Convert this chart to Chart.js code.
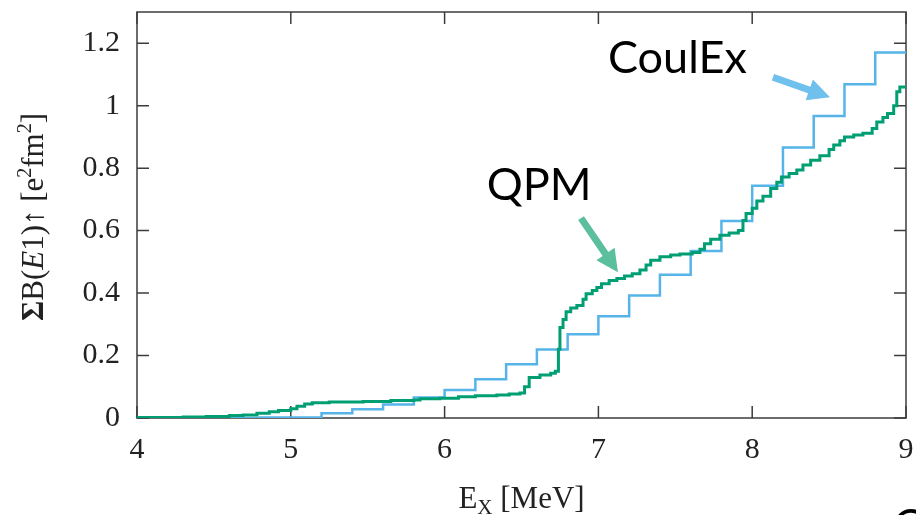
<!DOCTYPE html>
<html>
<head>
<meta charset="utf-8">
<script src="https://cdn.jsdelivr.net/npm/chart.js@4.4.0/dist/chart.umd.min.js"></script>
<style>
  html, body { margin: 0; padding: 0; background: #fff; }
  #wrap { width: 916px; height: 515px; position: relative; }
</style>
</head>
<body>
<div id="wrap"><canvas id="myChart"></canvas></div>
<script>
// CoulEx sum, 0.2 MeV bins (value holds from each energy to the next one)
var coulexE = [4.0, 4.2, 4.4, 4.6, 4.8, 5.0, 5.2, 5.4, 5.6, 5.8, 6.0, 6.2, 6.4, 6.6, 6.8,
               7.0, 7.2, 7.4, 7.6, 7.8, 8.0, 8.2, 8.4, 8.6, 8.8, 9.0];
var coulexB = [0, 0, 0, 0, 0.002, 0.002, 0.015, 0.028, 0.043, 0.066, 0.09, 0.124, 0.172, 0.219, 0.268,
               0.326, 0.392, 0.459, 0.535, 0.631, 0.744, 0.866, 0.967, 1.069, 1.17, 1.17];

// QPM running sum
var qpmE = [4.0, 4.3, 4.45, 4.6, 4.69, 4.78, 4.86, 4.92, 5.0, 5.04, 5.09, 5.14, 5.25, 5.47, 5.65,
            5.8, 5.84, 5.97, 6.09, 6.2, 6.34, 6.42, 6.49, 6.52, 6.55, 6.62, 6.69, 6.72, 6.74, 6.75,
            6.77, 6.79, 6.82, 6.86, 6.9, 6.92, 6.96, 6.99, 7.02, 7.07, 7.12, 7.17, 7.22, 7.27, 7.31,
            7.34, 7.4, 7.47, 7.53, 7.61, 7.66, 7.69, 7.73, 7.79, 7.85, 7.91, 7.94, 7.96, 8.0, 8.03,
            8.07, 8.12, 8.16, 8.19, 8.24, 8.29, 8.33, 8.38, 8.44, 8.5, 8.53, 8.57, 8.6, 8.66, 8.72,
            8.78, 8.81, 8.85, 8.88, 8.92, 8.94, 8.96, 9.0];
var qpmB = [0.002, 0.003, 0.005, 0.008, 0.01, 0.015, 0.02, 0.024, 0.03, 0.038, 0.045, 0.049, 0.051, 0.053, 0.056,
            0.058, 0.062, 0.063, 0.068, 0.071, 0.074, 0.077, 0.08, 0.1, 0.13, 0.138, 0.143, 0.15, 0.22, 0.29,
            0.315, 0.34, 0.352, 0.36, 0.38, 0.398, 0.408, 0.418, 0.43, 0.44, 0.447, 0.455, 0.462, 0.474, 0.49,
            0.505, 0.516, 0.522, 0.525, 0.53, 0.54, 0.558, 0.572, 0.585, 0.592, 0.6, 0.632, 0.655, 0.672, 0.695,
            0.71, 0.735, 0.755, 0.772, 0.783, 0.794, 0.81, 0.825, 0.84, 0.86, 0.874, 0.888, 0.9, 0.906, 0.912,
            0.927, 0.948, 0.962, 0.975, 1.0, 1.045, 1.06, 1.062];

var xTicks = [4, 5, 6, 7, 8, 9];
var yTicks = [0, 0.2, 0.4, 0.6, 0.8, 1, 1.2];

var serif = '"Liberation Serif", "Times New Roman", serif';
var sans = 'Lato, "Open Sans", sans-serif';

function toPoints(xs, ys) {
    var pts = [];
    for (var i = 0; i < xs.length; i++) {
        pts.push({ x: xs[i], y: ys[i] });
    }
    return pts;
}

// draws a string made of parts with different fonts: [text, font, dy]
function drawRich(ctx, parts, x, y) {
    var total = 0;
    parts.forEach(function (p) { ctx.font = p[1]; total += ctx.measureText(p[0]).width; });
    var cx = x - total / 2;
    parts.forEach(function (p) {
        ctx.font = p[1];
        ctx.fillText(p[0], cx, y + p[2]);
        cx += ctx.measureText(p[0]).width;
    });
}

function drawArrow(ctx, x1, y1, x2, y2, shaft, headW, headL, color) {
    var dx = x2 - x1, dy = y2 - y1;
    var len = Math.sqrt(dx * dx + dy * dy);
    var ux = dx / len, uy = dy / len;
    var nx = -uy, ny = ux;
    var bx = x2 - ux * headL, by = y2 - uy * headL;
    ctx.save();
    ctx.fillStyle = color;
    ctx.beginPath();
    ctx.moveTo(x1 + nx * shaft / 2, y1 + ny * shaft / 2);
    ctx.lineTo(bx + nx * shaft / 2, by + ny * shaft / 2);
    ctx.lineTo(bx + nx * headW / 2, by + ny * headW / 2);
    ctx.lineTo(x2, y2);
    ctx.lineTo(bx - nx * headW / 2, by - ny * headW / 2);
    ctx.lineTo(bx - nx * shaft / 2, by - ny * shaft / 2);
    ctx.lineTo(x1 - nx * shaft / 2, y1 - ny * shaft / 2);
    ctx.closePath();
    ctx.fill();
    ctx.restore();
}

function noPad(scale) {
    scale.paddingTop = 0;
    scale.paddingBottom = 0;
    scale.paddingLeft = 0;
    scale.paddingRight = 0;
}

// box round the plot with ticks pointing inwards
var framePlugin = {
    id: 'frame',
    beforeDatasetsDraw: function (chart) {
        var ctx = chart.ctx, a = chart.chartArea;
        var xs = chart.scales.x, ys = chart.scales.y;
        ctx.save();
        ctx.strokeStyle = '#3c3c3c';
        ctx.lineWidth = 1.5;
        ctx.strokeRect(a.left, a.top, a.right - a.left, a.bottom - a.top);
        ctx.beginPath();
        xTicks.forEach(function (v) {
            var px = xs.getPixelForValue(v);
            ctx.moveTo(px, a.bottom); ctx.lineTo(px, a.bottom - 12);
            ctx.moveTo(px, a.top); ctx.lineTo(px, a.top + 12);
        });
        yTicks.forEach(function (v) {
            var py = ys.getPixelForValue(v);
            ctx.moveTo(a.left, py); ctx.lineTo(a.left + 12, py);
            ctx.moveTo(a.right, py); ctx.lineTo(a.right - 12, py);
        });
        ctx.stroke();
        ctx.restore();
    },
    afterDraw: function (chart) {
        var ctx = chart.ctx;
        var xs = chart.scales.x, ys = chart.scales.y;
        ctx.save();
        ctx.fillStyle = '#222';
        ctx.textBaseline = 'alphabetic';
        // x title
        drawRich(ctx, [
            ['E', '31px ' + serif, 0],
            ['X', '21px ' + serif, 6],
            [' [MeV]', '31px ' + serif, 0]
        ], (chart.chartArea.left + chart.chartArea.right) / 2, 508);
        // y title
        ctx.translate(43, (chart.chartArea.top + chart.chartArea.bottom) / 2 + 2);
        ctx.rotate(-Math.PI / 2);
        drawRich(ctx, [
            ['\u03A3', 'bold 31px ' + serif, 0],
            ['B(', '31px ' + serif, 0],
            ['E', 'italic 31px ' + serif, 0],
            ['1)\u2191 [e', '31px ' + serif, 0],
            ['2', '20px ' + serif, -12],
            ['fm', '31px ' + serif, 0],
            ['2', '20px ' + serif, -12],
            [']', '31px ' + serif, 0]
        ], 0, 0);
        ctx.restore();

        // annotations
        ctx.save();
        ctx.fillStyle = '#000';
        ctx.font = '45px ' + sans;
        ctx.textBaseline = 'alphabetic';
        ctx.fillText('CoulEx', xs.getPixelForValue(7.062), ys.getPixelForValue(1.104));
        ctx.fillText('QPM', xs.getPixelForValue(6.274), ys.getPixelForValue(0.698));
        ctx.fillText('C', 893, 541);
        ctx.restore();
        drawArrow(ctx, xs.getPixelForValue(8.135), ys.getPixelForValue(1.091),
                  xs.getPixelForValue(8.506), ys.getPixelForValue(1.027), 7, 22, 22, '#6fc0ec');
        drawArrow(ctx, xs.getPixelForValue(6.887), ys.getPixelForValue(0.64),
                  xs.getPixelForValue(7.127), ys.getPixelForValue(0.467), 7, 22, 22, '#5bbf9e');
    }
};

var ctx = document.getElementById('myChart').getContext('2d');
var myChart = new Chart(ctx, {
    type: 'line',
    data: {
        datasets: [{
            label: 'QPM',
            data: toPoints(qpmE, qpmB),
            borderColor: '#009e73',
            borderWidth: 3,
            stepped: 'before',
            pointRadius: 0,
            fill: false
        }, {
            label: 'CoulEx',
            data: toPoints(coulexE, coulexB),
            borderColor: '#56b4e9',
            borderWidth: 2.5,
            stepped: 'before',
            pointRadius: 0,
            fill: false
        }]
    },
    options: {
        responsive: true,
        maintainAspectRatio: false,
        animation: false,
        devicePixelRatio: 1,
        layout: { padding: { top: 12, right: 10, left: 0, bottom: 0 } },
        plugins: {
            legend: { display: false },
            tooltip: { enabled: false }
        },
        scales: {
            x: {
                type: 'linear',
                min: 4,
                max: 9,
                afterBuildTicks: function (scale) {
                    scale.ticks = xTicks.map(function (v) { return { value: v }; });
                },
                afterFit: function (scale) { scale.height = 97; noPad(scale); },
                grid: { display: false, drawTicks: false },
                border: { display: false },
                ticks: {
                    padding: 14,
                    color: '#222',
                    font: { family: serif, size: 30 },
                    maxRotation: 0,
                    callback: function (v) { return String(v); }
                }
            },
            y: {
                type: 'linear',
                min: 0,
                max: 1.3,
                afterBuildTicks: function (scale) {
                    scale.ticks = yTicks.map(function (v) { return { value: v }; });
                },
                afterFit: function (scale) { scale.width = 137; noPad(scale); },
                grid: { display: false, drawTicks: false },
                border: { display: false },
                ticks: {
                    padding: 17,
                    color: '#222',
                    font: { family: serif, size: 30 },
                    callback: function (v) { return String(Math.round(v * 10) / 10); }
                }
            }
        }
    },
    plugins: [framePlugin]
});
</script>
</body>
</html>
